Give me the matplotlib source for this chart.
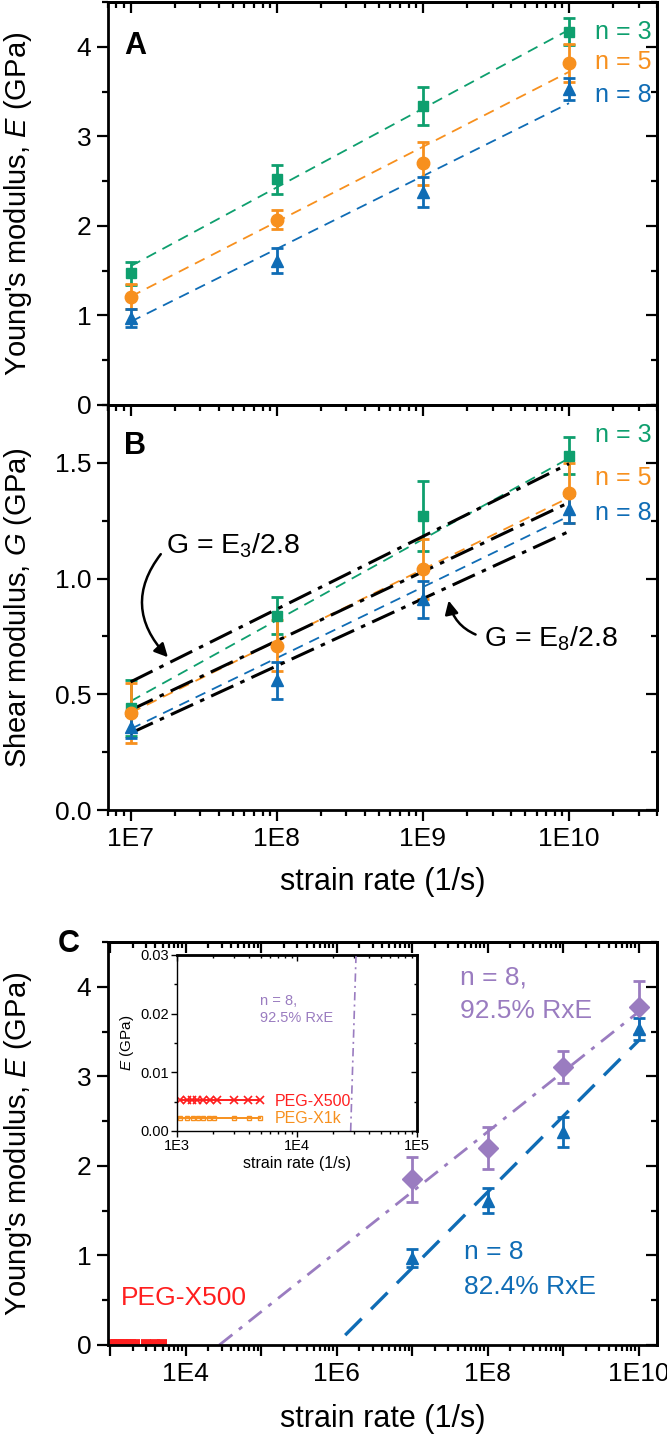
import numpy as np
import matplotlib
matplotlib.use("Agg")
import matplotlib.pyplot as plt
from matplotlib.ticker import LogLocator, MultipleLocator, NullFormatter, FuncFormatter

plt.rcParams['font.family'] = ['Liberation Sans', 'DejaVu Sans']
plt.rcParams['mathtext.fontset'] = 'custom'
plt.rcParams['mathtext.rm'] = 'Liberation Sans'
plt.rcParams['mathtext.it'] = 'Liberation Sans:italic'
plt.rcParams['axes.linewidth'] = 2.0

# ---------------- data ----------------
rate = [1e7, 1e8, 1e9, 1e10]

# panel A, Young's modulus (GPa)
E3 = [1.47, 2.52, 3.34, 4.17]
E3_err = [0.13, 0.16, 0.21, 0.15]
E5 = [1.21, 2.07, 2.70, 3.82]
E5_err = [0.14, 0.11, 0.24, 0.21]
E8 = [0.97, 1.61, 2.38, 3.53]
E8_err = [0.10, 0.14, 0.165, 0.12]

# dashed fits in A (values at 1E7 and 1E10)
fit_x = [1e7, 1e10]
fitE3 = [1.55, 4.19]
fitE5 = [1.21, 3.72]
fitE8 = [0.93, 3.37]

# panel B, shear modulus (GPa)
G3 = [0.44, 0.84, 1.27, 1.53]
G3_err = [0.12, 0.08, 0.15, 0.08]
G5 = [0.42, 0.71, 1.04, 1.37]
G5_err = [0.13, 0.11, 0.13, 0.13]
G8 = [0.36, 0.56, 0.91, 1.30]
G8_err = [0.05, 0.08, 0.08, 0.06]
fitG3 = [0.47, 1.52]
fitG5 = [0.42, 1.35]
fitG8 = [0.35, 1.27]

# panel C
Ep = [1.85, 2.20, 3.10, 3.77]          # n = 8, 92.5% RxE
Ep_err = [0.25, 0.23, 0.18, 0.30]
fitp_x = [2.8e4, 1e10]
fitp = [0.0, 3.72]
fitb_x = [1.3e6, 1e10]
fitb = [0.11, 3.40]

x500_rate = [1050, 1200, 1330, 1470, 1650, 1880, 2150, 3000, 3900, 4900]
x500_E = [0.0052, 0.0052, 0.0052, 0.0052, 0.0052, 0.0052, 0.0052, 0.0052, 0.0052, 0.0052]
x1k_rate = [1050, 1200, 1350, 1500, 1650, 1850, 2050, 3000, 4000, 4900]
x1k_E = [0.0022, 0.0022, 0.0022, 0.0022, 0.0022, 0.0022, 0.0022, 0.0022, 0.0022, 0.0022]

green = '#0E9F6E'
orange = '#F7901E'
blue = '#0F6CB5'
purple = '#9A7CC0'
red = '#FF1F1F'

W, H = 667, 1435
fig = plt.figure(figsize=(W / 100, H / 100), dpi=100)


def box(l, t, r, b):
    return [l / W, 1 - b / H, (r - l) / W, (b - t) / H]


axA = fig.add_axes(box(108, 2, 657, 405))
axB = fig.add_axes(box(108, 405, 657, 810))
axC = fig.add_axes(box(108, 942, 657, 1345))
axI = fig.add_axes(box(177, 955, 417, 1131))


def expfmt(v, p):
    return "1E%d" % int(round(np.log10(v)))


def evenfmt(v, p):
    e = int(round(np.log10(v)))
    return "1E%d" % e if e % 2 == 0 else ""


def style(ax, ymaj, ymin, fs, big=True):
    L, l, w = (8, 4.5, 1.6) if big else (4, 2, 1.0)
    ax.set_xscale('log')
    ax.xaxis.set_major_locator(LogLocator(base=10, numticks=20))
    ax.xaxis.set_minor_locator(LogLocator(base=10, subs=np.arange(2, 10), numticks=20))
    ax.xaxis.set_minor_formatter(NullFormatter())
    ax.yaxis.set_major_locator(MultipleLocator(ymaj))
    ax.yaxis.set_minor_locator(MultipleLocator(ymin))
    ax.tick_params(which='both', direction='out', top=False, right=False, labelsize=fs, width=w)
    ax.tick_params(which='major', length=L, pad=4 if big else 2)
    ax.tick_params(which='minor', length=l)
    sx = ax.secondary_xaxis('top')
    sx.xaxis.set_major_locator(LogLocator(base=10, numticks=20))
    sx.xaxis.set_minor_locator(LogLocator(base=10, subs=np.arange(2, 10), numticks=20))
    sx.xaxis.set_major_formatter(NullFormatter())
    sx.xaxis.set_minor_formatter(NullFormatter())
    sx.tick_params(which='both', direction='in', width=w)
    sx.tick_params(which='major', length=L)
    sx.tick_params(which='minor', length=l)
    sy = ax.secondary_yaxis('right')
    sy.yaxis.set_major_locator(MultipleLocator(ymaj))
    sy.yaxis.set_minor_locator(MultipleLocator(ymin))
    sy.yaxis.set_major_formatter(NullFormatter())
    sy.tick_params(which='both', direction='in', width=w)
    sy.tick_params(which='major', length=L)
    sy.tick_params(which='minor', length=l)


ebkw = dict(capsize=4, elinewidth=2.0, capthick=2.0, linestyle='none')

# ---------------- A ----------------
axA.plot(fit_x, fitE3, color=green, lw=1.3, dashes=(6, 4))
axA.plot(fit_x, fitE5, color=orange, lw=1.3, dashes=(6, 4))
axA.plot(fit_x, fitE8, color=blue, lw=1.3, dashes=(6, 4))
axA.errorbar(rate, E3, yerr=E3_err, fmt='s', color=green, ms=7.5, **ebkw)
axA.errorbar(rate, E5, yerr=E5_err, fmt='o', color=orange, ms=9, **ebkw)
axA.errorbar(rate, E8, yerr=E8_err, fmt='^', color=blue, ms=9, **ebkw)
style(axA, 1, 0.5, 19)
axA.set_xlim(7e6, 4e10)
axA.set_ylim(0, 4.5)
axA.tick_params(labelbottom=False)
axA.set_ylabel("Young's modulus, $E$ (GPa)", fontsize=21)
axA.yaxis.set_label_coords(-0.135, 0.5)
axA.text(0.03, 0.89, 'A', transform=axA.transAxes, fontsize=22, fontweight='bold', va='center')
axA.text(1.5e10, 4.17, 'n = 3', color=green, fontsize=18, va='center')
axA.text(1.5e10, 3.83, 'n = 5', color=orange, fontsize=18, va='center')
axA.text(1.5e10, 3.46, 'n = 8', color=blue, fontsize=18, va='center')

# ---------------- B ----------------
axB.plot(fit_x, fitG3, color=green, lw=1.3, dashes=(6, 4))
axB.plot(fit_x, fitG5, color=orange, lw=1.3, dashes=(6, 4))
axB.plot(fit_x, fitG8, color=blue, lw=1.3, dashes=(6, 4))
axB.errorbar(rate, G3, yerr=G3_err, fmt='s', color=green, ms=7.5, **ebkw)
axB.errorbar(rate, G5, yerr=G5_err, fmt='o', color=orange, ms=9, **ebkw)
axB.errorbar(rate, G8, yerr=G8_err, fmt='^', color=blue, ms=9, **ebkw)
for f in (fitE3, fitE5, fitE8):
    axB.plot(fit_x, np.array(f) / 2.8, color='k', lw=2.2, dashes=(8, 2.5, 1.5, 2.5))
style(axB, 0.5, 0.25, 19)
axB.set_xlim(7e6, 4e10)
axB.set_ylim(0, 1.75)
axB.yaxis.set_major_formatter(FuncFormatter(lambda v, p: "%.1f" % v))
axB.xaxis.set_major_formatter(FuncFormatter(expfmt))
axB.set_ylabel("Shear modulus, $G$ (GPa)", fontsize=21)
axB.yaxis.set_label_coords(-0.135, 0.5)
axB.set_xlabel("strain rate (1/s)", fontsize=22)
axB.xaxis.set_label_coords(0.5, -0.14)
axB.text(0.03, 0.9, 'B', transform=axB.transAxes, fontsize=22, fontweight='bold', va='center')
axB.text(1.5e10, 1.62, 'n = 3', color=green, fontsize=18, va='center')
axB.text(1.5e10, 1.435, 'n = 5', color=orange, fontsize=18, va='center')
axB.text(1.5e10, 1.285, 'n = 8', color=blue, fontsize=18, va='center')
axB.annotate(r'G = E$_3$/2.8', xy=(1.8e7, 0.66), xytext=(1.75e7, 1.14), fontsize=20.5,
             va='center', ha='left',
             arrowprops=dict(arrowstyle='-|>', color='k', lw=1.8, mutation_scale=20,
                             connectionstyle='arc3,rad=0.45', relpos=(0, 0.45),
                             shrinkA=3, shrinkB=0))
axB.annotate(r'G = E$_8$/2.8', xy=(1.5e9, 0.905), xytext=(2.6e9, 0.74), fontsize=20.5,
             va='center', ha='left',
             arrowprops=dict(arrowstyle='-|>', color='k', lw=1.8, mutation_scale=20,
                             connectionstyle='arc3,rad=-0.3', relpos=(0, 0.55),
                             shrinkA=4, shrinkB=0))

# ---------------- C ----------------
axC.plot(fitp_x, fitp, color=purple, lw=2.0, dashes=(6, 3, 1.5, 3))
axC.plot(fitb_x, fitb, color=blue, lw=2.4, dashes=(7, 4))
axC.errorbar(rate, Ep, yerr=Ep_err, fmt='D', color=purple, ms=10, **ebkw)
axC.errorbar(rate, E8, yerr=E8_err, fmt='^', color=blue, ms=9, **ebkw)
axC.plot(x500_rate, x500_E, linestyle='none', marker='_', ms=7.5, mew=8.5, color=red)
style(axC, 1, 0.5, 19)
axC.set_xlim(940, 1.75e10)
axC.set_ylim(0, 4.5)
axC.xaxis.set_major_formatter(FuncFormatter(evenfmt))
axC.set_ylabel("Young's modulus, $E$ (GPa)", fontsize=21)
axC.yaxis.set_label_coords(-0.135, 0.5)
axC.set_xlabel("strain rate (1/s)", fontsize=22)
axC.xaxis.set_label_coords(0.5, -0.147)
fig.text(69 / W, 1 - 944 / H, 'C', fontsize=22, fontweight='bold', ha='center', va='center')
axC.text(4.3e7, 4.10, 'n = 8,', color=purple, fontsize=19, va='center')
axC.text(4.3e7, 3.73, '92.5% RxE', color=purple, fontsize=19, va='center')
axC.text(4.8e7, 1.04, 'n = 8', color=blue, fontsize=19, va='center')
axC.text(4.8e7, 0.65, '82.4% RxE', color=blue, fontsize=19, va='center')
axC.text(1.4e3, 0.52, 'PEG-X500', color=red, fontsize=19, va='center')

# ---------------- inset ----------------
axI.plot(fitp_x, fitp, color=purple, lw=1.2, dashes=(5, 2.5, 1.2, 2.5))
axI.plot(x500_rate, x500_E, color=red, lw=1.4, marker='x', ms=5.5, mew=1.2)
axI.plot(x1k_rate, x1k_E, color=orange, lw=1.4, marker='s', ms=3.5, mew=1.0, mfc='none')
style(axI, 0.01, 0.005, 10.5, big=False)
axI.set_xlim(1e3, 1e5)
axI.set_ylim(0, 0.03)
axI.xaxis.set_major_formatter(FuncFormatter(expfmt))
axI.yaxis.set_major_formatter(FuncFormatter(lambda v, p: "%.2f" % v))
for s in axI.spines.values():
    s.set_linewidth(1.0)
axI.set_xlabel("strain rate (1/s)", fontsize=11.5, labelpad=2)
axI.set_ylabel("$E$ (GPa)", fontsize=11, labelpad=3)
axI.text(4.9e3, 0.0222, 'n = 8,', color=purple, fontsize=10.5, va='center')
axI.text(4.9e3, 0.0193, '92.5% RxE', color=purple, fontsize=10.5, va='center')
axI.text(6.5e3, 0.0051, 'PEG-X500', color=red, fontsize=11.5, va='center')
axI.text(6.5e3, 0.0022, 'PEG-X1k', color=orange, fontsize=11.5, va='center')

fig.savefig('out.png', dpi=100)
